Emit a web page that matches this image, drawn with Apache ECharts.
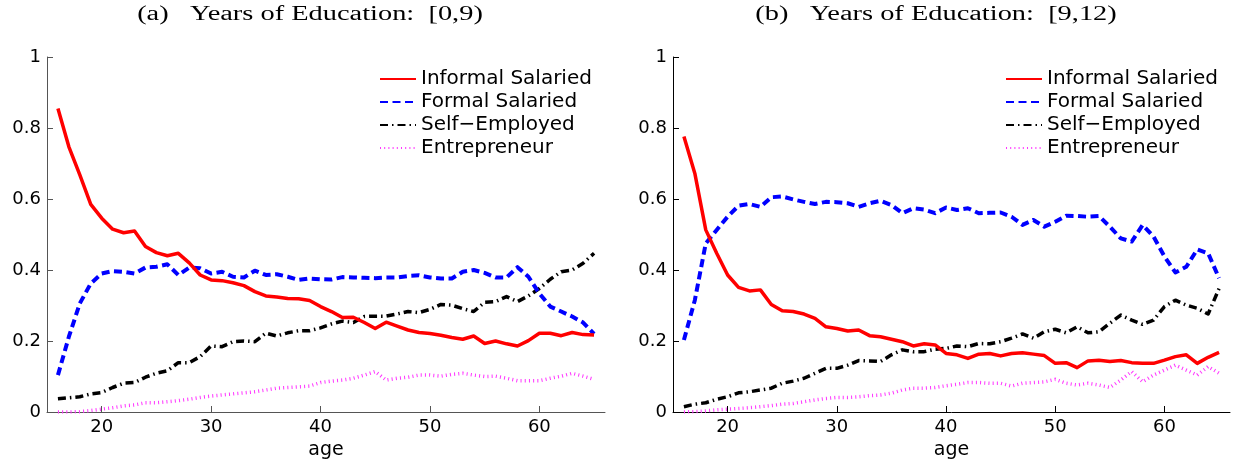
<!DOCTYPE html>
<html>
<head>
<meta charset="utf-8">
<script src="https://cdn.jsdelivr.net/npm/echarts@6/dist/echarts.min.js"></script>
<style>html,body{margin:0;padding:0;background:#fff;}#c{width:1233px;height:459px;}</style>
</head>
<body>
<div id="c"></div>
<script>
const ages = [16,17,18,19,20,21,22,23,24,25,26,27,28,29,30,31,32,33,34,35,36,37,38,39,40,41,42,43,44,45,46,47,48,49,50,51,52,53,54,55,56,57,58,59,60,61,62,63,64,65];
const xTicks = [20,30,40,50,60];
const seriesNames = ['Informal Salaried','Formal Salaried','Self\u2212Employed','Entrepreneur'];
const panelTitles = ['(a)   Years of Education:  [0,9)','(b)   Years of Education:  [9,12)'];
const xAxisName = 'age';

// Panel (a): Years of Education [0,9)
const informalA = [0.855,0.747,0.668,0.585,0.546,0.515,0.505,0.51,0.466,0.449,0.44,0.447,0.42,0.386,0.372,0.37,0.364,0.356,0.339,0.327,0.324,0.32,0.319,0.314,0.297,0.283,0.266,0.267,0.252,0.235,0.253,0.242,0.231,0.224,0.221,0.216,0.21,0.205,0.214,0.193,0.2,0.192,0.186,0.201,0.222,0.222,0.215,0.224,0.218,0.217];
const formalA = [0.104,0.212,0.306,0.362,0.39,0.397,0.395,0.39,0.407,0.409,0.416,0.386,0.407,0.405,0.39,0.395,0.381,0.379,0.398,0.386,0.388,0.381,0.372,0.376,0.374,0.373,0.38,0.379,0.378,0.377,0.379,0.379,0.383,0.385,0.379,0.376,0.376,0.395,0.4,0.392,0.379,0.379,0.408,0.381,0.334,0.297,0.283,0.269,0.252,0.22];
const selfA = [0.037,0.04,0.043,0.051,0.055,0.069,0.081,0.083,0.098,0.109,0.116,0.139,0.139,0.156,0.186,0.184,0.198,0.2,0.198,0.222,0.214,0.223,0.229,0.229,0.237,0.248,0.256,0.252,0.269,0.27,0.27,0.276,0.283,0.28,0.289,0.303,0.301,0.291,0.283,0.309,0.311,0.325,0.311,0.327,0.348,0.374,0.395,0.4,0.419,0.447];
const entA = [0,0,0.001,0.004,0.008,0.012,0.017,0.02,0.026,0.026,0.029,0.032,0.036,0.041,0.045,0.048,0.051,0.054,0.057,0.062,0.067,0.069,0.071,0.073,0.083,0.087,0.09,0.095,0.104,0.114,0.09,0.095,0.098,0.104,0.104,0.101,0.106,0.109,0.104,0.1,0.101,0.095,0.088,0.088,0.088,0.095,0.101,0.109,0.101,0.092];

// Panel (b): Years of Education [9,12)
const informalB = [0.776,0.672,0.513,0.447,0.386,0.351,0.341,0.344,0.303,0.285,0.283,0.276,0.264,0.24,0.235,0.228,0.231,0.215,0.212,0.205,0.198,0.186,0.192,0.189,0.165,0.161,0.151,0.163,0.165,0.158,0.165,0.167,0.163,0.159,0.137,0.139,0.125,0.144,0.146,0.142,0.145,0.139,0.137,0.137,0.146,0.156,0.161,0.137,0.154,0.168];
const formalB = [0.203,0.315,0.475,0.513,0.55,0.581,0.586,0.578,0.605,0.607,0.599,0.592,0.586,0.592,0.591,0.588,0.578,0.588,0.595,0.583,0.56,0.574,0.57,0.56,0.576,0.569,0.574,0.56,0.561,0.562,0.55,0.527,0.541,0.522,0.536,0.553,0.552,0.55,0.552,0.522,0.489,0.48,0.527,0.494,0.438,0.393,0.409,0.458,0.447,0.377];
const selfB = [0.015,0.022,0.026,0.036,0.043,0.054,0.057,0.062,0.067,0.081,0.087,0.095,0.109,0.123,0.123,0.132,0.145,0.144,0.142,0.161,0.175,0.17,0.17,0.177,0.179,0.186,0.184,0.193,0.192,0.198,0.208,0.22,0.208,0.226,0.233,0.223,0.24,0.223,0.226,0.25,0.273,0.259,0.247,0.259,0.297,0.315,0.301,0.292,0.276,0.348];
const entB = [0,0.001,0.003,0.006,0.008,0.01,0.012,0.015,0.018,0.022,0.024,0.029,0.034,0.038,0.041,0.041,0.043,0.046,0.048,0.053,0.062,0.067,0.067,0.069,0.074,0.078,0.083,0.083,0.081,0.081,0.073,0.081,0.083,0.085,0.092,0.081,0.076,0.081,0.076,0.069,0.09,0.114,0.085,0.104,0.118,0.132,0.118,0.104,0.128,0.109];

const panels = [[informalA, formalA, selfA, entA], [informalB, formalB, selfB, entB]];

const styles = [
  {color:'#ff0000', width:3.5, type:'solid'},
  {color:'#0000ff', width:4, type:[8,4.5]},
  {color:'#000000', width:3.5, type:[8,4,1.5,4]},
  {color:'#ff33ff', width:3.5, type:[1,3.2]}
];

const grids = [
  {left:47, top:57, width:558, height:355, outerBoundsMode:'none', containLabel:false},
  {left:673, top:57, width:557, height:355, outerBoundsMode:'none', containLabel:false}
];
const axisColors = ['#555555', '#000000'];
const font = 'DejaVu Sans';

function xAxisFor(i){
  return {
    type:'value', gridIndex:i, min:15, max:66,
    axisLine:{show:true, onZero:false, lineStyle:{color:axisColors[i], width:1}},
    axisTick:{show:true, inside:true, length:6, customValues:xTicks, lineStyle:{color:axisColors[i]}},
    axisLabel:{customValues:xTicks, fontSize:18, fontFamily:font, color:'#000', margin:6},
    splitLine:{show:false},
    name:xAxisName, nameLocation:'middle', nameGap:15,
    nameTextStyle:{fontSize:19, fontFamily:font, color:'#000'}
  };
}
function yAxisFor(i){
  return {
    type:'value', gridIndex:i, min:0, max:1, interval:0.2,
    axisLine:{show:true, lineStyle:{color:axisColors[i], width:1}},
    axisTick:{show:true, inside:true, length:6, lineStyle:{color:axisColors[i]}},
    axisLabel:{fontSize:18, fontFamily:font, color:'#000', margin:6},
    splitLine:{show:false}
  };
}

const series = [];
panels.forEach((vals, p) => {
  vals.forEach((arr, k) => {
    series.push({
      name: seriesNames[k], type:'line', xAxisIndex:p, yAxisIndex:p,
      symbol:'none', animation:false, z: 10 - k,
      lineStyle:{color:styles[k].color, width:styles[k].width, type:styles[k].type, cap:'butt', join:'round'},
      itemStyle:{color:styles[k].color},
      data: ages.map((a, j) => [a, arr[j]])
    });
  });
});

const legendLefts = [374, 1000];
const legends = legendLefts.map(l => ({
  orient:'vertical', left:l, top:64, itemWidth:36, itemHeight:14, itemGap:3,
  selectedMode:false, data:seriesNames.slice(),
  itemStyle:{color:'rgba(0,0,0,0)', borderColor:'rgba(0,0,0,0)', borderWidth:0, opacity:0},
  textStyle:{fontSize:20, fontFamily:font, color:'#000', lineHeight:20}
}));

const titleCenters = [310, 936];
const graphics = panelTitles.map((t, i) => ({
  type:'text', x:titleCenters[i], y:15, scaleX:1.42, scaleY:1,
  style:{text:t, font:'20px "Liberation Serif"', fill:'#000', textAlign:'center', textVerticalAlign:'middle', verticalAlign:'middle'}
}));

const chart = echarts.init(document.getElementById('c'), null, {renderer:'canvas'});
chart.setOption({
  animation:false,
  backgroundColor:'#fff',
  grid: grids,
  xAxis: [xAxisFor(0), xAxisFor(1)],
  yAxis: [yAxisFor(0), yAxisFor(1)],
  legend: legends,
  graphic: graphics,
  series: series
});
</script>
</body>
</html>
